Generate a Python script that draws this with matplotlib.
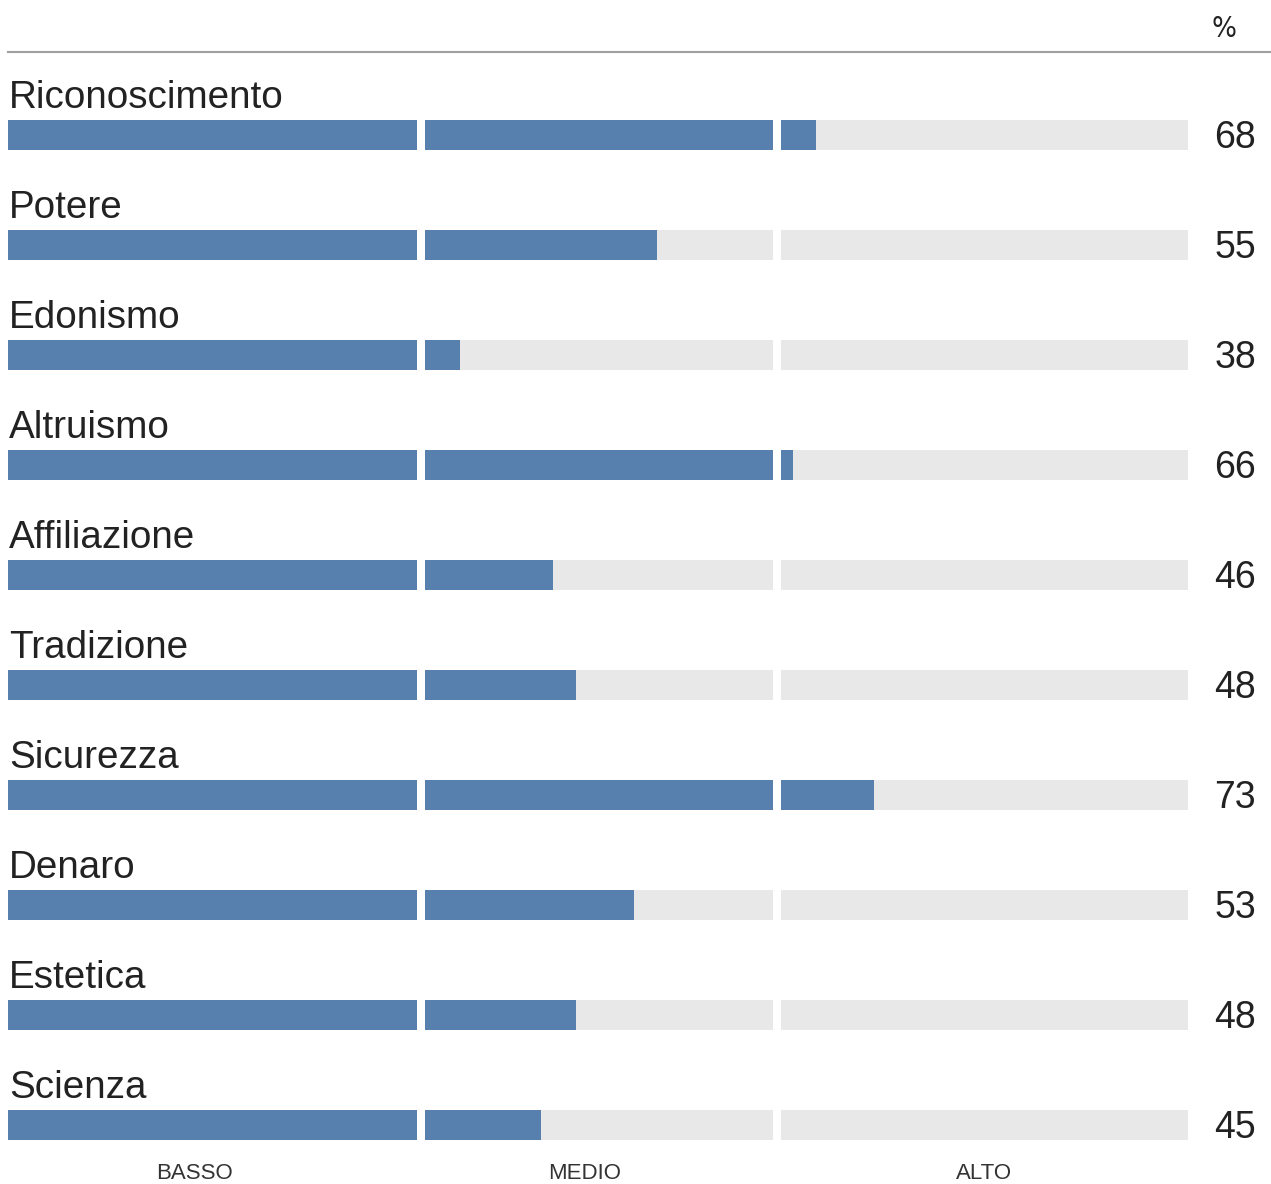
import matplotlib
matplotlib.use("Agg")
import matplotlib.pyplot as plt
from matplotlib.transforms import blended_transform_factory

# dati
categorie = ["Riconoscimento", "Potere", "Edonismo", "Altruismo", "Affiliazione",
             "Tradizione", "Sicurezza", "Denaro", "Estetica", "Scienza"]
valori = [68, 55, 38, 66, 46, 48, 73, 53, 48, 45]
fasce = ["BASSO", "MEDIO", "ALTO"]
limiti = [(0, 35), (35, 65), (65, 100)]

BLU = "#5780af"
GRIGIO = "#e8e8e8"
TESTO = "#222222"

plt.rcParams['font.family'] = ['Liberation Sans', 'DejaVu Sans']

W, H = 1271, 1184
fig = plt.figure(figsize=(W / 100, H / 100), dpi=100)

# posizioni in pixel dei tre segmenti
seg_px = [(8, 417), (425, 773), (781, 1188)]
top_px, bot_px = 80, 1180
n = len(categorie)
passo = (bot_px - top_px) / n
alt_barra = 30 / passo
pos_label = [0.455, 0.458, 0.5]

assi = []
for k, ((x0, x1), (lo, hi)) in enumerate(zip(seg_px, limiti)):
    ax = fig.add_axes([x0 / W, 1 - bot_px / H, (x1 - x0) / W, (bot_px - top_px) / H])
    ax.set_xlim(lo, hi)
    ax.set_ylim(n - 0.5, -0.5)
    ax.axis("off")
    for i, v in enumerate(valori):
        ax.barh(i, hi - lo, left=lo, height=alt_barra, color=GRIGIO, linewidth=0)
        if v > lo:
            ax.barh(i, min(v, hi) - lo, left=lo, height=alt_barra, color=BLU, linewidth=0)
    ax.text(pos_label[k], 1 - 1171 / H, fasce[k], transform=blended_transform_factory(ax.transAxes, fig.transFigure),
            ha="center", va="center_baseline", fontsize=16, color="#333333")
    assi.append(ax)

# etichette categorie
for i, c in enumerate(categorie):
    assi[0].text(0.1, i - 27 / passo, c, ha="left", va="baseline", fontsize=27.8, color=TESTO, clip_on=False)

# valori a destra
tr = blended_transform_factory(fig.transFigure, assi[2].transData)
for i, v in enumerate(valori):
    assi[2].text(1256 / W, i + 13 / passo, str(v), transform=tr, ha="right", va="baseline",
                 fontsize=27, color=TESTO, clip_on=False)

# linea in alto e simbolo %
fig.add_artist(plt.Line2D([8 / W, 1], [1 - 52 / H, 1 - 52 / H], transform=fig.transFigure,
                          color="#a0a0a0", linewidth=1.5))
fig.text(1224 / W, 1 - 37 / H, "%", ha="center", va="baseline", fontsize=21, color=TESTO,
         family="DejaVu Sans", fontstretch="condensed")

fig.savefig("out.png", dpi=100)
